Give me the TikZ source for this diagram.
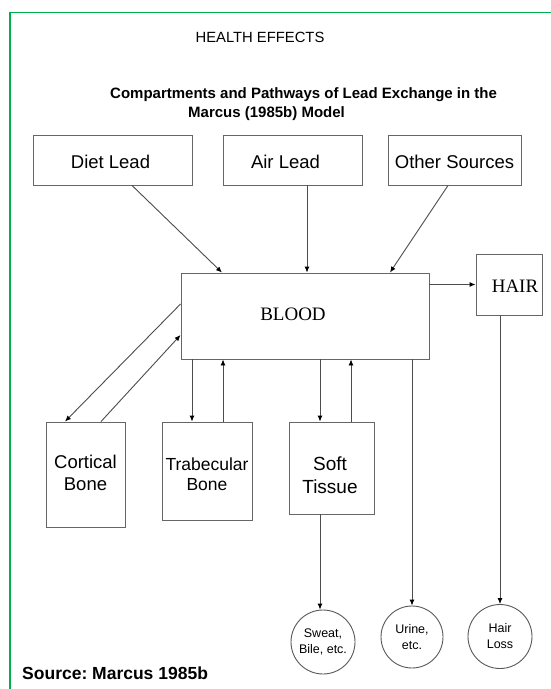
\documentclass[tikz,border=0pt]{standalone}
\usepackage{fontspec}
\setmainfont{Liberation Sans}
\newfontfamily\serifface{Liberation Serif}
\usetikzlibrary{arrows.meta}
\definecolor{frame}{RGB}{0,176,80}
\frenchspacing
\begin{document}
\begin{tikzpicture}[x=1pt,y=-1pt,
  box/.style={draw=black!60, line width=0.9pt, rectangle, inner sep=0pt},
  boxtext/.style={align=center, font=\fontsize{18.5}{22}\selectfont},
  circ/.style={draw=black!65, line width=0.9pt, circle, inner sep=0pt, minimum size=64pt, align=center, font=\fontsize{12.5}{16}\selectfont},
  conn/.style={draw=black!70, line width=0.9pt, -{Latex[length=6pt,width=5pt,color=black]}},
  plain/.style={draw=black!70, line width=0.9pt}]
\useasboundingbox (0,0) rectangle (550,689);
\fill[white] (0,0) rectangle (550,689);
\draw[frame, line width=1.6pt] (10,690) -- (10,12.5) -- (551,12.5);

% titles
\node[font=\fontsize{14.8}{17}\selectfont] (t1) at (260,37) {HEALTH EFFECTS};
\node[anchor=west, font=\bfseries\fontsize{15}{17}\selectfont, inner sep=0pt] (t2) at (110,95) {Compartments and Pathways of Lead Exchange in the};
\node[anchor=west, font=\bfseries\fontsize{15}{17}\selectfont, inner sep=0pt] (t3) at (188,114) {Marcus (1985b) Model};
\node[anchor=west, font=\bfseries\fontsize{17.5}{20}\selectfont, inner sep=0pt] (src) at (22,673) {Source: Marcus 1985b};

% sources
\node[box, minimum width=159pt, minimum height=50pt, label={[boxtext, yshift=-2pt, xshift=-2pt]center:Diet Lead}] (diet) at (112.5,160) {};
\node[box, minimum width=139pt, minimum height=50pt, label={[boxtext, yshift=-2pt, xshift=-7pt]center:Air Lead}] (air) at (292.5,160) {};
\node[box, minimum width=133pt, minimum height=50pt, label={[boxtext, yshift=-2pt]center:Other Sources}] (other) at (454.5,160) {};

% blood and hair
\node[box, minimum width=248pt, minimum height=86pt, label={[font=\serifface\fontsize{19}{22}\selectfont, xshift=-12pt, yshift=2pt]center:BLOOD}] (blood) at (305,316) {};
\node[box, minimum width=66pt, minimum height=61pt, label={[font=\serifface\fontsize{19}{22}\selectfont, xshift=6pt, yshift=-2pt]center:HAIR}] (hair) at (509,284.5) {};

% compartments
\node[box, minimum width=79pt, minimum height=105pt, label={[boxtext, yshift=2pt]center:Cortical\\Bone}] (cort) at (85.5,474.5) {};
\node[box, minimum width=90pt, minimum height=98pt, label={[boxtext, font=\fontsize{17.5}{20}\selectfont, yshift=-3pt]center:Trabecular\\Bone}] (trab) at (207,471) {};
\node[box, minimum width=85pt, minimum height=92pt, label={[boxtext, font=\fontsize{19}{23}\selectfont, yshift=-7pt, xshift=-2pt]center:Soft\\Tissue}] (soft) at (332,468) {};

% sinks
\node[circ] (sweat) at (323,642) {Sweat,\\Bile, etc.};
\node[circ, minimum size=62pt] (urine) at (412,637) {Urine,\\etc.};
\node[circ] (hloss) at (500,636.5) {Hair\\Loss};

% inputs to blood
\draw[conn] ([xshift=19.5pt]diet.south) -- ([xshift=-83pt]blood.north);
\draw[conn] ([xshift=14.5pt]air.south) -- ([xshift=2pt]blood.north);
\draw[conn] ([xshift=-6.5pt]other.south) -- ([xshift=85pt]blood.north);

% blood to hair
\draw[conn] (blood.east |- hair.west) -- (hair.west);
\draw[conn] ([xshift=-9pt]hair.south) -- ([xshift=-9pt]hair.south |- hloss.north);

% cortical exchange
\draw[conn] ([yshift=12pt]blood.west) -- ([xshift=-20.5pt]cort.north);
\draw[conn] ([xshift=15.5pt]cort.north) -- ([yshift=-19pt]blood.west);

% trabecular exchange
\draw[conn] ([xshift=-15pt]trab.north |- blood.south) -- ([xshift=-15pt]trab.north);
\draw[conn] ([xshift=16pt]trab.north) -- ([xshift=16pt]trab.north |- blood.south);

% soft tissue exchange
\draw[conn] ([xshift=-12pt]soft.north |- blood.south) -- ([xshift=-12pt]soft.north);
\draw[conn] ([xshift=19pt]soft.north) -- ([xshift=19pt]soft.north |- blood.south);

% outputs
\draw[conn] ([xshift=-12pt]soft.south) -- ([xshift=-12pt]soft.south |- sweat.north);
\draw[conn] (urine.north |- blood.south) -- (urine.north);
\end{tikzpicture}
\end{document}
